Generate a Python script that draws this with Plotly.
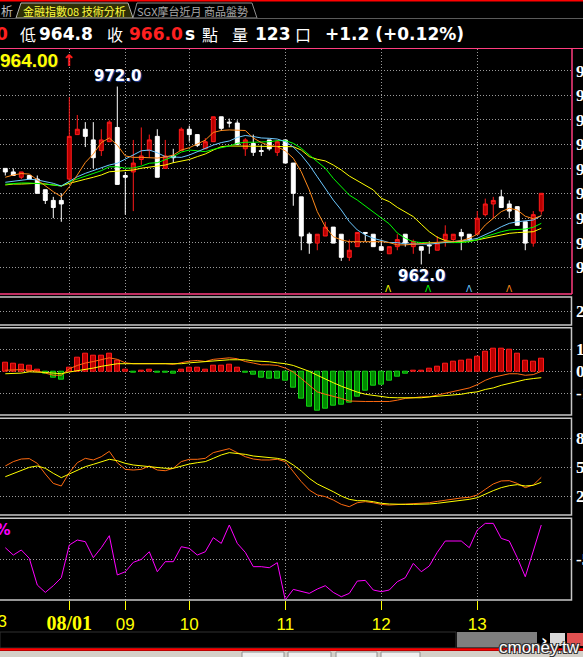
import plotly.graph_objects as go

W, H = 583, 657

# 5-minute bars; bar 8 opens the 08/01 session
bars = list(range(68))
hour_idx = [8, 15, 23, 35, 47, 59]
hour_txt = ["<span style='font-family:Liberation Serif;font-size:20px'><b>08/01</b></span>",
            "09", "10", "11", "12", "13"]

open_ = [967.4, 967.2, 966.9, 967.0, 966.8, 966.2, 965.6, 965.6, 966.8, 969.3,
         969.6, 969.0, 968.4, 968.9, 969.7, 967.0, 967.2, 967.9, 968.4, 969.2,
         967.4, 968.1, 968.4, 969.6, 969.3, 968.5, 968.9, 970.3, 970.0, 969.95,
         968.5, 968.8, 968.4, 969.0, 968.3, 969.0, 967.7, 965.8, 963.7, 963.2,
         963.6, 964.1, 963.7, 962.4, 963.0, 963.8, 963.7, 963.0, 962.6, 963.0,
         963.7, 963.0, 963.0, 963.1, 962.8, 963.4, 963.4, 963.8, 963.7, 963.7,
         964.8, 965.4, 965.8, 965.4, 965.25, 964.4, 963.2, 965.0]
high = [967.4, 967.4, 967.2, 967.0, 967.0, 966.2, 965.8, 966.0, 971.4, 970.4,
        970.0, 970.0, 969.6, 970.1, 972.0, 967.2, 969.0, 969.7, 969.3, 969.6,
        969.0, 968.5, 969.7, 969.8, 969.3, 969.1, 970.3, 970.3, 970.2, 970.1,
        969.1, 969.3, 968.7, 969.0, 969.0, 969.0, 967.7, 965.8, 963.8, 963.7,
        964.4, 964.1, 963.7, 963.4, 963.8, 963.8, 963.7, 963.4, 963.0, 963.7,
        963.7, 963.4, 963.0, 963.3, 963.6, 964.2, 963.7, 964.0, 963.7, 965.0,
        965.7, 965.8, 966.2, 965.6, 965.25, 964.4, 965.0, 966.0]
low = [967.0, 967.0, 966.8, 966.8, 966.0, 965.4, 964.6, 964.4, 966.7, 969.3,
       968.6, 967.4, 968.1, 968.9, 966.5, 964.8, 965.0, 967.6, 968.0, 966.9,
       967.4, 967.7, 968.4, 968.9, 968.6, 968.5, 968.9, 969.5, 969.7, 968.75,
       968.1, 968.1, 968.1, 968.4, 968.1, 967.7, 965.3, 962.8, 962.6, 962.8,
       963.6, 963.2, 962.2, 962.2, 963.0, 963.3, 963.0, 962.8, 962.6, 962.8,
       963.0, 962.6, 962.0, 962.6, 962.8, 963.0, 963.2, 962.8, 963.3, 963.7,
       964.7, 964.6, 965.2, 964.6, 964.2, 962.8, 963.0, 964.8]
close = [967.2, 967.0, 967.2, 966.8, 966.0, 965.6, 965.2, 965.4, 969.2, 969.6,
         969.2, 968.0, 969.0, 970.0, 966.5, 966.9, 967.7, 968.1, 969.0, 966.9,
         968.1, 968.0, 969.6, 969.3, 968.7, 968.9, 970.3, 969.65, 969.95, 968.75,
         969.0, 968.3, 968.35, 968.5, 968.9, 967.7, 966.0, 963.6, 963.2, 963.7,
         964.1, 963.2, 962.4, 962.8, 963.8, 963.75, 963.0, 962.8, 963.0, 963.4,
         963.2, 963.3, 962.8, 963.05, 963.2, 963.7, 963.7, 963.6, 963.4, 964.6,
         965.4, 965.6, 965.2, 965.0, 964.2, 963.2, 964.8, 966.0]

ma5 = [966.90, 967.03, 967.11, 967.08, 966.75, 966.41, 966.09, 965.81, 966.37, 967.03,
       967.73, 968.21, 968.85, 969.11, 968.71, 968.10, 968.02, 968.02, 968.01, 967.98,
       968.04, 968.15, 968.43, 968.56, 968.77, 968.99, 969.42, 969.53, 969.56, 969.56,
       969.53, 969.11, 968.85, 968.69, 968.62, 968.38, 967.97, 967.21, 966.19, 964.97,
       964.12, 963.56, 963.38, 963.28, 963.28, 963.28, 963.28, 963.28, 963.23, 963.10,
       963.10, 963.14, 963.14, 963.19, 963.23, 963.28, 963.28, 963.34, 963.47, 963.70,
       964.22, 964.60, 964.97, 965.16, 965.06, 964.71, 964.57, 964.74]
ma10 = [966.62, 966.69, 966.75, 966.79, 966.75, 966.65, 966.56, 966.41, 966.65, 966.93,
        967.12, 967.27, 967.41, 967.59, 967.69, 967.91, 968.15, 968.39, 968.43, 968.28,
        968.06, 968.06, 968.02, 968.15, 968.35, 968.53, 968.71, 968.85, 968.94, 969.14,
        969.25, 969.19, 969.11, 969.09, 969.05, 968.90, 968.60, 968.15, 967.59, 966.93,
        966.28, 965.62, 965.06, 964.41, 963.94, 963.66, 963.47, 963.33, 963.23, 963.23,
        963.15, 963.15, 963.14, 963.14, 963.19, 963.23, 963.28, 963.32, 963.38, 963.47,
        963.66, 963.88, 964.12, 964.31, 964.40, 964.44, 964.50, 964.74]
ma20 = [966.51, 966.56, 966.58, 966.58, 966.56, 966.52, 966.47, 966.41, 966.65, 966.80,
        966.97, 967.08, 967.27, 967.49, 967.49, 967.41, 967.42, 967.53, 967.69, 967.72,
        967.87, 968.06, 968.32, 968.43, 968.39, 968.34, 968.47, 968.56, 968.66, 968.81,
        968.87, 968.87, 968.87, 968.90, 968.96, 968.96, 968.81, 968.53, 968.15, 967.77,
        967.41, 966.84, 966.37, 965.90, 965.62, 965.29, 964.97, 964.64, 964.28, 963.77,
        963.47, 963.28, 963.23, 963.23, 963.23, 963.19, 963.19, 963.23, 963.28, 963.38,
        963.56, 963.71, 963.84, 963.94, 963.98, 963.99, 964.09, 964.31]
ma30 = [966.47, 966.52, 966.52, 966.56, 966.56, 966.52, 966.47, 966.41, 966.56, 966.69,
        966.79, 966.90, 967.03, 967.21, 967.25, 967.25, 967.31, 967.41, 967.46, 967.54,
        967.59, 967.72, 967.82, 967.90, 968.06, 968.21, 968.43, 968.62, 968.66, 968.66,
        968.66, 968.66, 968.66, 968.66, 968.66, 968.66, 968.62, 968.43, 968.06, 967.91,
        967.82, 967.59, 967.31, 966.97, 966.71, 966.47, 966.19, 965.72, 965.53, 965.21,
        964.97, 964.69, 964.26, 963.84, 963.53, 963.34, 963.28, 963.28, 963.32, 963.38,
        963.47, 963.56, 963.66, 963.75, 963.79, 963.81, 963.84, 964.03]

macd_osc = [0.39, 0.35, 0.30, 0.24, 0.09, -0.11, -0.29, -0.38, 0.18, 0.62,
            0.80, 0.71, 0.71, 0.80, 0.50, 0.09, -0.06, 0.03, 0.09, -0.06,
            -0.05, -0.12, 0.09, 0.18, 0.18, 0.09, 0.26, 0.26, 0.30, 0.17,
            -0.05, -0.17, -0.30, -0.35, -0.35, -0.44, -0.76, -1.27, -1.64, -1.79,
            -1.70, -1.59, -1.55, -1.45, -1.14, -0.89, -0.68, -0.61, -0.45, -0.24,
            -0.11, 0.05, 0.05, 0.12, 0.21, 0.35, 0.44, 0.48, 0.55, 0.67,
            0.91, 1.03, 1.03, 0.98, 0.82, 0.50, 0.45, 0.58]
macd_dif = [0.05, 0.08, 0.08, 0.05, 0.02, -0.08, -0.18, -0.18, 0.12, 0.27,
            0.38, 0.45, 0.53, 0.62, 0.55, 0.39, 0.35, 0.35, 0.38, 0.35,
            0.35, 0.32, 0.39, 0.47, 0.50, 0.45, 0.55, 0.58, 0.62, 0.58,
            0.45, 0.38, 0.30, 0.30, 0.27, 0.15, -0.03, -0.33, -0.64, -0.94,
            -1.05, -1.14, -1.24, -1.36, -1.38, -1.38, -1.38, -1.38, -1.38, -1.32,
            -1.24, -1.21, -1.17, -1.17, -1.09, -1.01, -0.91, -0.82, -0.76, -0.61,
            -0.41, -0.27, -0.18, -0.11, -0.11, -0.18, -0.15, 0.0]
macd_sig = [-0.11, -0.11, -0.08, -0.02, -0.02, -0.05, -0.08, -0.11, -0.03, 0.02,
            0.09, 0.15, 0.23, 0.29, 0.35, 0.35, 0.35, 0.35, 0.35, 0.35,
            0.35, 0.35, 0.35, 0.39, 0.42, 0.42, 0.47, 0.50, 0.53, 0.53,
            0.53, 0.48, 0.47, 0.44, 0.39, 0.35, 0.27, 0.15, 0.0, -0.18,
            -0.36, -0.52, -0.68, -0.83, -0.95, -1.05, -1.11, -1.15, -1.20, -1.21,
            -1.22, -1.23, -1.21, -1.17, -1.14, -1.11, -1.08, -1.05, -0.98, -0.94,
            -0.83, -0.76, -0.64, -0.56, -0.45, -0.38, -0.33, -0.29]

kd_k = [51.4, 55.9, 58.6, 59.0, 54.1, 43.1, 33.4, 30.7, 44.5, 54.8,
        59.3, 57.6, 61.0, 66.5, 54.8, 47.9, 47.2, 47.9, 51.4, 47.2,
        46.5, 49.0, 55.9, 58.3, 58.3, 59.3, 65.2, 67.2, 69.3, 65.2,
        61.0, 58.6, 57.6, 57.6, 58.3, 55.9, 45.5, 35.2, 26.5, 21.4,
        19.7, 16.2, 11.7, 9.3, 13.4, 14.5, 13.4, 11.7, 11.0, 11.4,
        11.7, 12.4, 12.8, 13.4, 14.8, 16.2, 17.6, 18.3, 19.0, 21.4,
        27.2, 32.8, 35.9, 36.2, 33.4, 29.0, 31.7, 39.7]
kd_d = [40.3, 43.8, 47.2, 50.0, 51.4, 49.0, 43.8, 39.3, 43.1, 47.2,
        50.7, 53.1, 55.9, 58.3, 56.9, 54.1, 52.4, 51.4, 50.7, 50.0,
        49.0, 49.0, 51.4, 53.4, 54.8, 55.9, 59.3, 62.8, 65.2, 64.5,
        63.4, 61.7, 61.0, 60.0, 59.3, 57.6, 52.4, 46.2, 38.6, 32.8,
        29.0, 24.8, 20.3, 16.9, 15.5, 15.5, 14.5, 12.8, 12.1, 11.7,
        11.7, 11.7, 11.7, 12.1, 12.8, 13.8, 15.2, 16.2, 16.9, 18.6,
        22.4, 25.9, 29.0, 31.0, 32.1, 30.7, 31.4, 34.5]

wr = [-36.0, -45.0, -38.8, -49.0, -81.7, -90.7, -82.5, -72.7, -32.7, -26.6,
      -28.6, -48.2, -36.0, -21.3, -69.4, -65.4, -53.9, -50.3, -40.9, -65.4,
      -53.1, -53.1, -34.8, -36.8, -45.0, -40.9, -23.7, -30.7, -8.2, -30.7,
      -41.7, -59.2, -59.2, -60.5, -54.3, -100.0, -87.0, -89.0, -91.9, -86.6,
      -82.5, -90.7, -96.0, -91.9, -76.8, -76.0, -87.8, -89.8, -87.8, -77.6,
      -72.7, -55.2, -65.4, -58.4, -41.7, -27.8, -27.8, -27.8, -36.0, -14.4,
      -6.2, -6.2, -24.6, -27.8, -48.2, -71.5, -40.1, -8.2]

price_grid = [961.85, 963.23, 964.61, 965.99, 967.37, 968.75, 970.13, 971.51, 972.89]
price_lbl = [f"{v:.1f}" for v in price_grid]
vol_grid, vol_lbl = [2], ["2"]
macd_grid, macd_lbl = [-1, 0, 1], ["-1", "0", "1"]
kd_grid, kd_lbl = [20, 50, 80], ["20", "50", "80"]
wr_grid, wr_lbl = [-50], ["-50"]

GRID = "#9a9a9a"
DOTS = "1px,2px"
PINK = "#ff3d7f"
PANEL_GRAY = "#c8c8c8"
XR = [-0.6625, 70.84]
XD = [0, 572 / W]


def ydom(top, bottom):
    return [1 - bottom / H, 1 - top / H]


def px(x):
    return x / W


def py(y):
    return 1 - y / H


fig = go.Figure()

fig.add_trace(go.Candlestick(
    x=bars, open=open_, high=high, low=low, close=close, xaxis="x", yaxis="y",
    increasing=dict(line=dict(color="#ff1a1a", width=1), fillcolor="#b80000"),
    decreasing=dict(line=dict(color="#ffffff", width=1), fillcolor="#ffffff"),
    whiskerwidth=0, hoverinfo="skip"))
for vals, col in [(ma30, "#ffff00"), (ma20, "#00ff00"), (ma10, "#6cc8ff"), (ma5, "#ff8a1a")]:
    fig.add_trace(go.Scatter(x=bars, y=vals, mode="lines", line=dict(color=col, width=1),
                             xaxis="x", yaxis="y", hoverinfo="skip"))

fig.add_trace(go.Scatter(x=[], y=[], xaxis="x2", yaxis="y2"))

fig.add_trace(go.Bar(
    x=bars, y=macd_osc, width=0.62, xaxis="x3", yaxis="y3", hoverinfo="skip",
    marker=dict(color=["#b80000" if v >= 0 else "#008a00" for v in macd_osc],
                line=dict(color=["#ff1a1a" if v >= 0 else "#10d010" for v in macd_osc], width=1))))
fig.add_trace(go.Scatter(x=bars, y=macd_dif, mode="lines", line=dict(color="#ff6a10", width=1),
                         xaxis="x3", yaxis="y3", hoverinfo="skip"))
fig.add_trace(go.Scatter(x=bars, y=macd_sig, mode="lines", line=dict(color="#ffff00", width=1),
                         xaxis="x3", yaxis="y3", hoverinfo="skip"))

fig.add_trace(go.Scatter(x=bars, y=kd_k, mode="lines", line=dict(color="#ff6a10", width=1),
                         xaxis="x4", yaxis="y4", hoverinfo="skip"))
fig.add_trace(go.Scatter(x=bars, y=kd_d, mode="lines", line=dict(color="#ffff00", width=1),
                         xaxis="x4", yaxis="y4", hoverinfo="skip"))

fig.add_trace(go.Scatter(x=bars, y=wr, mode="lines", line=dict(color="#ff00ff", width=1),
                         xaxis="x5", yaxis="y5", hoverinfo="skip"))

xcommon = dict(range=XR, domain=XD, tickvals=hour_idx, showgrid=True, gridcolor=GRID,
               griddash=DOTS, gridwidth=1, zeroline=False, showline=False, automargin=False,
               showticklabels=False, ticks="", fixedrange=True)
yfont = dict(family="Liberation Serif", size=17, color="white", weight="bold")
ycommon = dict(side="right", showgrid=True, gridcolor=GRID, griddash=DOTS, gridwidth=1,
               zeroline=False, showline=False, ticks="", tickfont=yfont, fixedrange=True,
               automargin=False, ticklabelstandoff=3)

panels = [(49, 294, [960.34, 974.11], price_grid, price_lbl),
          (297, 325, [0, 4], vol_grid, vol_lbl),
          (327.7, 415, [-2, 2], macd_grid, macd_lbl),
          (418.3, 515, [0.7, 100.7], kd_grid, kd_lbl),
          (518.3, 600, [-100, 0], wr_grid, wr_lbl)]

layout = dict(width=W, height=H, margin=dict(l=0, r=0, t=0, b=0, pad=0), autosize=False,
              paper_bgcolor="black", plot_bgcolor="black", showlegend=False,
              hovermode=False, bargap=0)
for i, (t, b, rng, tv, tt) in enumerate(panels, start=1):
    n = "" if i == 1 else str(i)
    xa = dict(xcommon, anchor="y" + n)
    if i == 1:
        xa["rangeslider"] = dict(visible=False)
    if i == 5:
        xa.update(ticks="outside", ticklen=9, tickcolor="#ffff00", tickwidth=1,
                  showticklabels=True, ticktext=hour_txt,
                  tickfont=dict(family="Liberation Sans", size=17, color="#ffff00"))
    layout["xaxis" + n] = xa
    layout["yaxis" + n] = dict(ycommon, anchor="x" + n, domain=ydom(t, b), range=rng,
                               tickvals=tv, ticktext=tt)

shapes = []


def rect(x0, y0, x1, y1, fill="rgba(0,0,0,0)", line=None, lw=1):
    shapes.append(dict(type="rect", xref="paper", yref="paper", x0=px(x0), x1=px(x1),
                       y0=py(y1), y1=py(y0), fillcolor=fill, layer="above",
                       line=dict(color=line or "rgba(0,0,0,0)", width=lw if line else 0)))


def seg(x0, y0, x1, y1, color, lw=1):
    shapes.append(dict(type="line", xref="paper", yref="paper", x0=px(x0), x1=px(x1),
                       y0=py(y0), y1=py(y1), line=dict(color=color, width=lw), layer="above"))


def poly(pts, fill, line):
    d = "M " + " L ".join(f"{px(x):.5f},{py(y):.5f}" for x, y in pts) + " Z"
    shapes.append(dict(type="path", xref="paper", yref="paper", path=d, fillcolor=fill,
                       line=dict(color=line, width=1), layer="above"))


# header
rect(0, 0, W, 1.5, fill="#ff0000")
poly([(16, 18), (21, 3), (128, 3), (133, 18)], "#2e2e06", "#b0b0b0")
poly([(133, 18), (137, 3), (252, 3), (257, 18)], "#000000", "#8c8c8c")
seg(0, 18.5, W, 18.5, "#5a5a5a")
seg(0, 48.5, W, 48.5, PINK)

# panel frames
seg(572, 49, 572, 294, PINK, 1.5)
seg(-2, 294, 572, 294, PINK, 1.5)
for t, b, *_ in panels[1:]:
    rect(-3, t, 571.5, b, line=PANEL_GRAY, lw=1.5)

# scrollbar / footer
rect(0, 632, 456, 648, fill="#000000", line="#303030")
rect(457, 632, 537, 647.5, fill="#7f7f7f")
rect(550, 633, 565, 646, fill="#d8d8d8")
rect(567, 633, 583, 646, fill="#e05050")
seg(0, 649.5, W, 649.5, "#ff0000", 2.5)
rect(0, 651, W, H, fill="#d4d0c8")
for x0, x1 in [(242, 284), (288, 331), (336, 377), (381, 420)]:
    rect(x0, 652, x1, H + 2, fill="#f0f0f0", line="#909090")

anns = []


def text(s, x, y, size, color, family="DejaVu Sans", xanchor="left", yanchor="middle",
         weight="normal", shadow=None):
    f = dict(family=family, size=size, color=color, weight=weight)
    if shadow:
        f["shadow"] = shadow
    anns.append(dict(text=s, x=px(x), y=py(y), xref="paper", yref="paper",
                     xanchor=xanchor, yanchor=yanchor, showarrow=False, font=f, borderpad=0))


CJK = "Noto Sans CJK TC"
text("析", 0, 10, 12, "#c0c0c0", CJK)
text("金融指數08 技術分析", 22, 10.5, 11, "#ffff40", CJK)
text("SGX摩台近月 商品盤勢", 136, 10.5, 11, "#a8a8a8", CJK)

BOLD = "DejaVu Sans"
text("0", 8.5, 34, 17, "#ff2020", BOLD, xanchor="right", weight="bold")
text("低", 19, 34, 16, "white", CJK)
text("964.8", 38, 34, 17, "white", BOLD, weight="bold")
text("收", 106, 34, 16, "white", CJK)
text("966.0", 128, 34, 17, "#ff2020", BOLD, weight="bold")
text("s", 184, 34, 17, "white", BOLD, weight="bold")
text("點", 201, 34, 16, "white", CJK)
text("量", 231, 34, 16, "white", CJK)
text("123", 254, 34, 17, "white", BOLD, weight="bold")
text("口", 294, 34, 16, "white", CJK)
text("+1.2 (+0.12%)", 324, 34, 17, "white", BOLD, weight="bold")

text("964.00", -1, 60, 19, "#ffff00", "Liberation Sans", weight="bold",
     shadow="1px 1px 1px #202020")
text("↑", 61, 60, 16, "#ff2020", "DejaVu Sans", weight="bold")

hl = dict(family="DejaVu Sans", size=15, color="white", weight="bold", shadow="1px 1px 1px #2040a0")
i_hi = high.index(max(high))
i_lo = low.index(min(low))
anns.append(dict(text=f"{max(high):.1f}", x=i_hi, y=max(high), xref="x", yref="y",
                 xanchor="center", yanchor="bottom", showarrow=False, font=hl))
anns.append(dict(text=f"{min(low):.1f}", x=i_lo, y=min(low), xref="x", yref="y",
                 xanchor="center", yanchor="top", yshift=-1, showarrow=False, font=hl))

for xm, col in [(388, "#ffff00"), (429, "#00ff00"), (469, "#6cc8ff"), (509, "#ff8a1a")]:
    text("Λ", xm, 289, 9, col, "DejaVu Sans", xanchor="center")

text("W%", 12, 530, 15, "#ff00ff", "DejaVu Sans", xanchor="right", weight="bold")
text("13", -3, 621, 17, "#ffff00", "Liberation Sans", xanchor="center")

text("›", 540, 640, 16, "white", "DejaVu Sans", weight="bold")
text("cmoney.tw", 581, 647, 17, "white", "Liberation Sans", xanchor="right",
     shadow="1px 1px 0 #333, -1px -1px 0 #333, 1px -1px 0 #333, -1px 1px 0 #333")

layout["shapes"] = shapes
layout["annotations"] = anns
fig.update_layout(**layout)
fig.write_html("out.html", config={"displayModeBar": False},
               post_script="document.body.style.margin='0';document.body.style.overflow='hidden';")
